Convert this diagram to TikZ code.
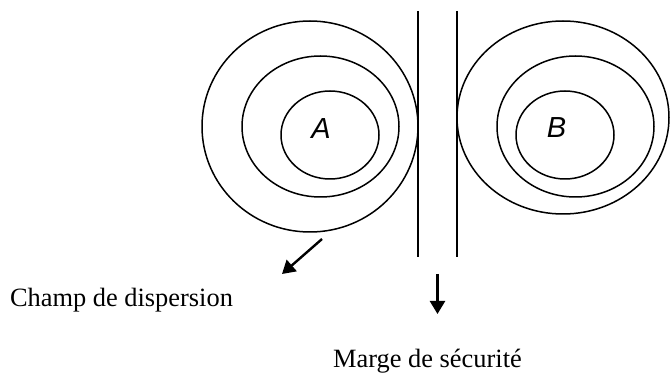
\documentclass[tikz,border=0pt]{standalone}
\usepackage{fontspec}
\setmainfont{Liberation Serif}
\newfontfamily\arialfont{Liberation Sans}
\usepackage{tikz}
\usetikzlibrary{arrows.meta}
\usetikzlibrary{positioning}

\tikzset{
	zone/.style={line width=1.5pt},
	marge/.style={line width=1.3pt},
	fleche/.style={line width=2.4pt, -{Triangle[length=13pt, width=15pt]}},
	legende/.style={font=\fontsize{26.4}{30}\selectfont, inner sep=0pt, anchor=base},
	lettre/.style={font=\arialfont\itshape\fontsize{29}{32}\selectfont, inner sep=0pt}
}

\begin{document}
\begin{tikzpicture}[x=1pt, y=-1pt]
						\useasboundingbox (0,0) rectangle (670,374);

						\coordinate (a1) at (310, 126.5);
						\coordinate (a2) at (320.5, 126.5);
						\coordinate (a3) at (330, 135);

						\coordinate (b1) at (563, 117.5);
						\coordinate (b2) at (575.5, 126.5);
						\coordinate (b3) at (565, 135);

						\draw[zone] (a1) ellipse [x radius=108, y radius=105.5];
						\draw[zone] (a2) ellipse [x radius=78.5, y radius=70.5];
						\draw[zone] (a3) ellipse [x radius=49, y radius=44];
						\node[lettre] (A) at (321, 128.5) {A};

						\draw[zone] (b1) ellipse [x radius=106, y radius=96.5];
						\draw[zone] (b2) ellipse [x radius=78.5, y radius=70.5];
						\draw[zone] (b3) ellipse [x radius=49, y radius=44];
						\node[lettre] (B) at (556.5, 128) {B};

						\coordinate (m1) at (418, 11);
						\coordinate (M1) at (418, 257);
						\coordinate (m2) at (457, 11);
						\coordinate (M2) at (457, 257);
						\draw[marge] (m1) -- (M1);
						\draw[marge] (m2) -- (M2);

						\coordinate (d1) at (322, 239);
						\coordinate (D1) at (282, 274);
						\draw[fleche] (d1) -- (D1);

						\coordinate (s1) at (437.5, 274);
						\coordinate (S1) at (437.5, 314);
						\draw[fleche] (s1) -- (S1);

						\node[legende] (champ) at (121.5, 307) {Champ de dispersion};
						\node[legende] (securite) at (427.5, 367) {Marge de sécurité};
					\end{tikzpicture}
\end{document}
